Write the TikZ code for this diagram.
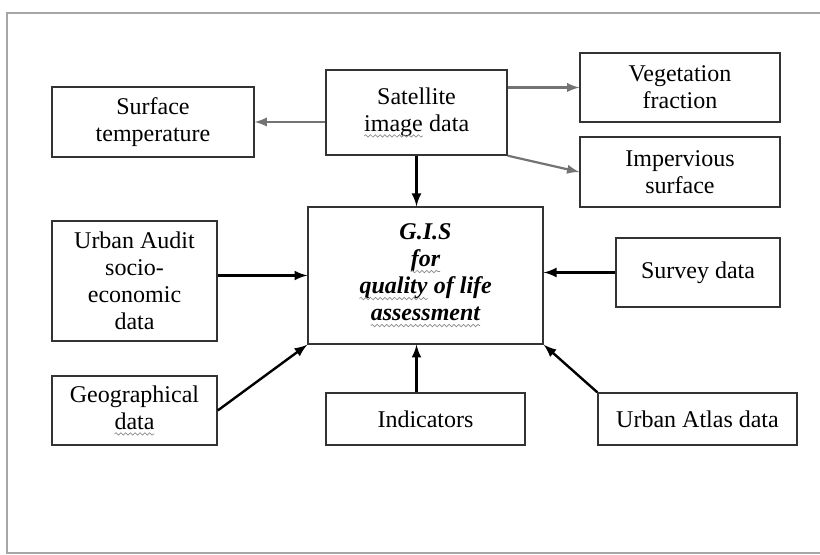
\documentclass[tikz,border=0pt]{standalone}
\usepackage{fontspec}
\setmainfont{Liberation Serif}
\usetikzlibrary{decorations.pathmorphing}
\newcommand{\squig}[1]{\tikz[baseline=(w.base),x=1pt,y=1pt]{\node[draw=none,inner sep=0pt,outer sep=0pt,
      minimum width=0pt,minimum height=0pt,align=left] (w) {#1};
    \draw[black!45,line width=0.35pt,decorate,decoration={snake,amplitude=0.6pt,segment length=2.4pt}]
      ([yshift=-2.4pt]w.base west) -- ([yshift=-2.4pt]w.base east);}}

\begin{document}
\begin{tikzpicture}[x=0.5pt,y=-0.5pt,font=\fontsize{12}{13.5}\selectfont,
    box/.style={draw=black!80,line width=0.7pt,align=center,inner sep=2pt},
    thin arrow/.style={->,>=latex,draw=black!55,line width=1.1pt},
    thick arrow/.style={->,>=latex,line width=1.2pt}]
\useasboundingbox (0,0) rectangle (820,555);
\draw[black!35,line width=0.6pt] (820,13) -- (7,13) -- (7,553) -- (820,553);

\node[box,minimum width=101pt,minimum height=35pt] (surf) at (153,122) {Surface\\temperature};
\node[box,minimum width=90.5pt,minimum height=42.5pt] (sat) at (416.5,112.5) {Satellite\\\squig{image} data};
\node[box,minimum width=100pt,minimum height=34.5pt] (veg) at (680,87.5) {Vegetation\\fraction};
\node[box,minimum width=100pt,minimum height=35pt] (imp) at (680,172) {Impervious\\surface};
\node[box,minimum width=117.5pt,minimum height=68.5pt,font=\fontsize{12}{13.5}\selectfont\bfseries\itshape] (gis) at (425.5,275.5)
    {G.I.S\\\squig{for}\\\squig{quality} of life\\\squig{assessment}};
\node[box,minimum width=82.5pt,minimum height=60pt] (audit) at (134.5,281) {Urban Audit\\socio-\\economic\\data};
\node[box,minimum width=82pt,minimum height=34.5pt] (survey) at (698,272.5) {Survey data};
\node[box,minimum width=82.5pt,minimum height=34.5pt] (geo) at (134.5,410.5) {Geographical\\\squig{data}};
\node[box,minimum width=99.5pt,minimum height=26pt] (ind) at (425.5,419) {Indicators};
\node[box,minimum width=99.5pt,minimum height=26pt] (atlas) at (697.5,419) {Urban Atlas data};

% from the satellite data
\draw[thin arrow] (surf.east -| sat.west) -- (surf.east);
\draw[thin arrow] (veg.west -| sat.east) -- (veg.west);
\draw[thin arrow] (sat.south east) -- (imp.west);

% into the G.I.S
\draw[thick arrow] (sat.south) -- (sat.south |- gis.north);
\draw[thick arrow] (gis.west -| audit.east) -- (gis.west);
\draw[thick arrow] (survey.west) -- (survey.west -| gis.east);
\draw[thick arrow] (geo.east) -- (gis.south west);
\draw[thick arrow] (sat.south |- ind.north) -- (sat.south |- gis.south);
\draw[thick arrow] (atlas.north west) -- (gis.south east);
\end{tikzpicture}
\end{document}
